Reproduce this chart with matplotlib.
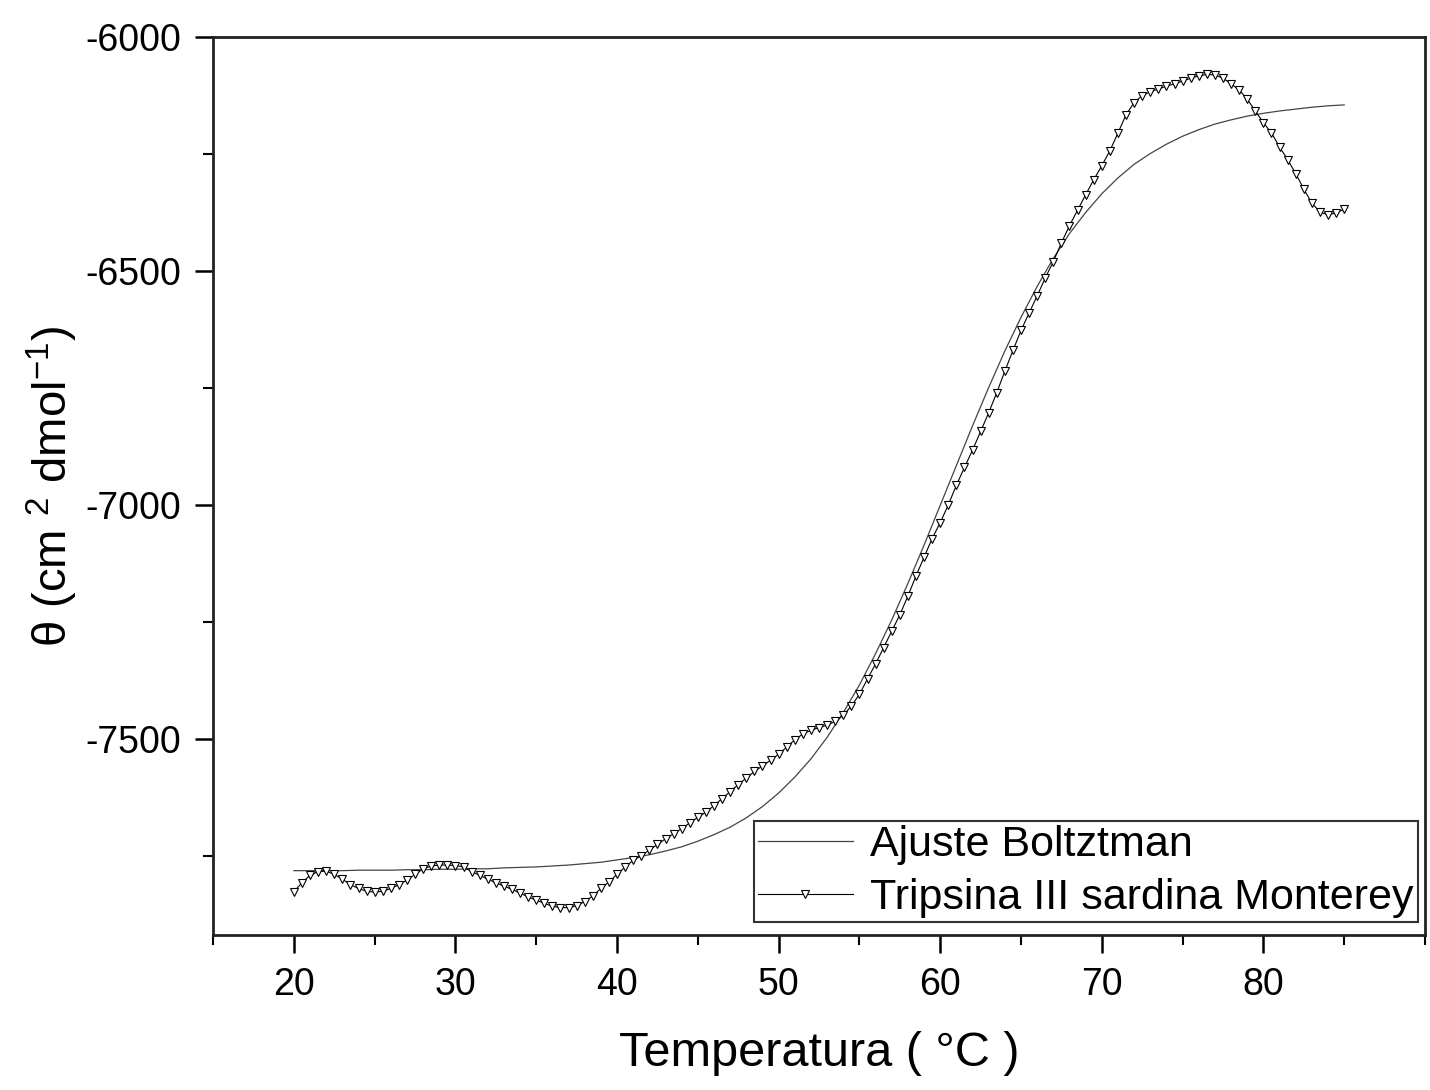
import numpy as np
import matplotlib
matplotlib.use('Agg')
import matplotlib.pyplot as plt
from matplotlib.ticker import MultipleLocator

plt.rcParams['font.family'] = ['Liberation Sans', 'DejaVu Sans']
plt.rcParams['mathtext.fontset'] = 'custom'
plt.rcParams['mathtext.rm'] = 'Liberation Sans'
plt.rcParams['mathtext.it'] = 'Liberation Sans:italic'
plt.rcParams['axes.unicode_minus'] = False

# measured series (every 0.5 °C)
temp = np.arange(20.0, 85.01, 0.5)
theta = [
    -7827, -7808, -7792, -7784, -7783, -7790, -7800, -7812, -7820, -7826,
    -7828, -7826, -7820, -7812, -7802, -7790, -7778, -7772, -7770, -7770,
    -7771, -7774, -7784, -7792, -7800, -7808, -7815, -7822, -7830, -7838,
    -7845, -7852, -7858, -7861, -7861, -7857, -7848, -7836, -7820, -7806,
    -7790, -7774, -7760, -7750, -7738, -7726, -7714, -7703, -7692, -7680,
    -7668, -7657, -7643, -7628, -7613, -7598, -7584, -7570, -7558, -7546,
    -7533, -7518, -7502, -7490, -7482, -7476, -7471, -7463, -7450, -7430,
    -7405, -7372, -7340, -7305, -7270, -7235, -7195, -7152, -7112, -7072,
    -7038, -7000, -6958, -6920, -6883, -6843, -6803, -6760, -6714, -6670,
    -6627, -6590, -6553, -6515, -6480, -6440, -6403, -6370, -6337, -6305,
    -6275, -6243, -6205, -6166, -6140, -6125, -6117, -6111, -6105, -6100,
    -6094, -6088, -6083, -6080, -6081, -6088, -6100, -6113, -6133, -6158,
    -6183, -6205, -6235, -6262, -6292, -6325, -6355, -6374, -6380, -6376,
    -6368,
]

# Boltzmann fit curve (every 1 °C)
fit_temp = np.arange(20, 86, 1)
fit_theta = [
    -7782, -7782, -7782, -7782, -7781, -7781, -7781, -7780, -7780, -7779,
    -7779, -7778, -7778, -7776, -7775, -7774, -7772, -7770, -7767, -7764,
    -7759, -7754, -7748, -7740, -7731, -7719, -7705, -7689, -7669, -7645,
    -7616, -7582, -7543, -7497, -7444, -7385, -7318, -7246, -7168, -7086,
    -7001, -6916, -6831, -6749, -6671, -6599, -6533, -6473, -6420, -6375,
    -6335, -6301, -6272, -6249, -6229, -6212, -6198, -6186, -6177, -6169,
    -6163, -6158, -6154, -6150, -6147, -6145,
]

fig = plt.figure(figsize=(14.3, 10.9), dpi=100)
ax = fig.add_axes([0.149, 0.142, 0.8475, 0.824])

ax.plot(fit_temp, fit_theta, '-', color='#444444', linewidth=0.9,
        label='Ajuste Boltztman')
ax.plot(temp, theta, '-', color='black', linewidth=0.8, marker='v',
        markersize=6, markerfacecolor='white', markeredgecolor='black',
        markeredgewidth=0.8, label='Tripsina III sardina Monterey')

ax.set_xlim(15, 90)
ax.set_ylim(-7920, -6000)
ax.xaxis.set_major_locator(MultipleLocator(10))
ax.xaxis.set_minor_locator(MultipleLocator(5))
ax.yaxis.set_major_locator(MultipleLocator(500))
ax.yaxis.set_minor_locator(MultipleLocator(250))
ax.set_xticks([20, 30, 40, 50, 60, 70, 80])

ax.tick_params(axis='both', which='major', direction='out', length=13,
               width=1.8, labelsize=27, pad=10, top=False, right=False)
ax.tick_params(axis='both', which='minor', direction='out', length=7,
               width=1.5, top=False, right=False)
for s in ax.spines.values():
    s.set_linewidth(2)
    s.set_color('#222222')

ax.set_xlabel('Temperatura ( °C )', fontsize=35, labelpad=20)
ax.set_ylabel(r'θ (cm $^{2}$ dmol$^{-1}$)', fontsize=34, labelpad=4)

leg = ax.legend(loc='lower right', bbox_to_anchor=(0.994, 0.0145),
                fontsize=31, frameon=True, fancybox=False, numpoints=1,
                handlelength=2.2, handletextpad=0.4, labelspacing=0.3,
                borderpad=0.1, borderaxespad=0)
leg.get_frame().set_edgecolor('black')
leg.get_frame().set_linewidth(1.5)

fig.savefig('out.png', dpi=100, facecolor='white')
